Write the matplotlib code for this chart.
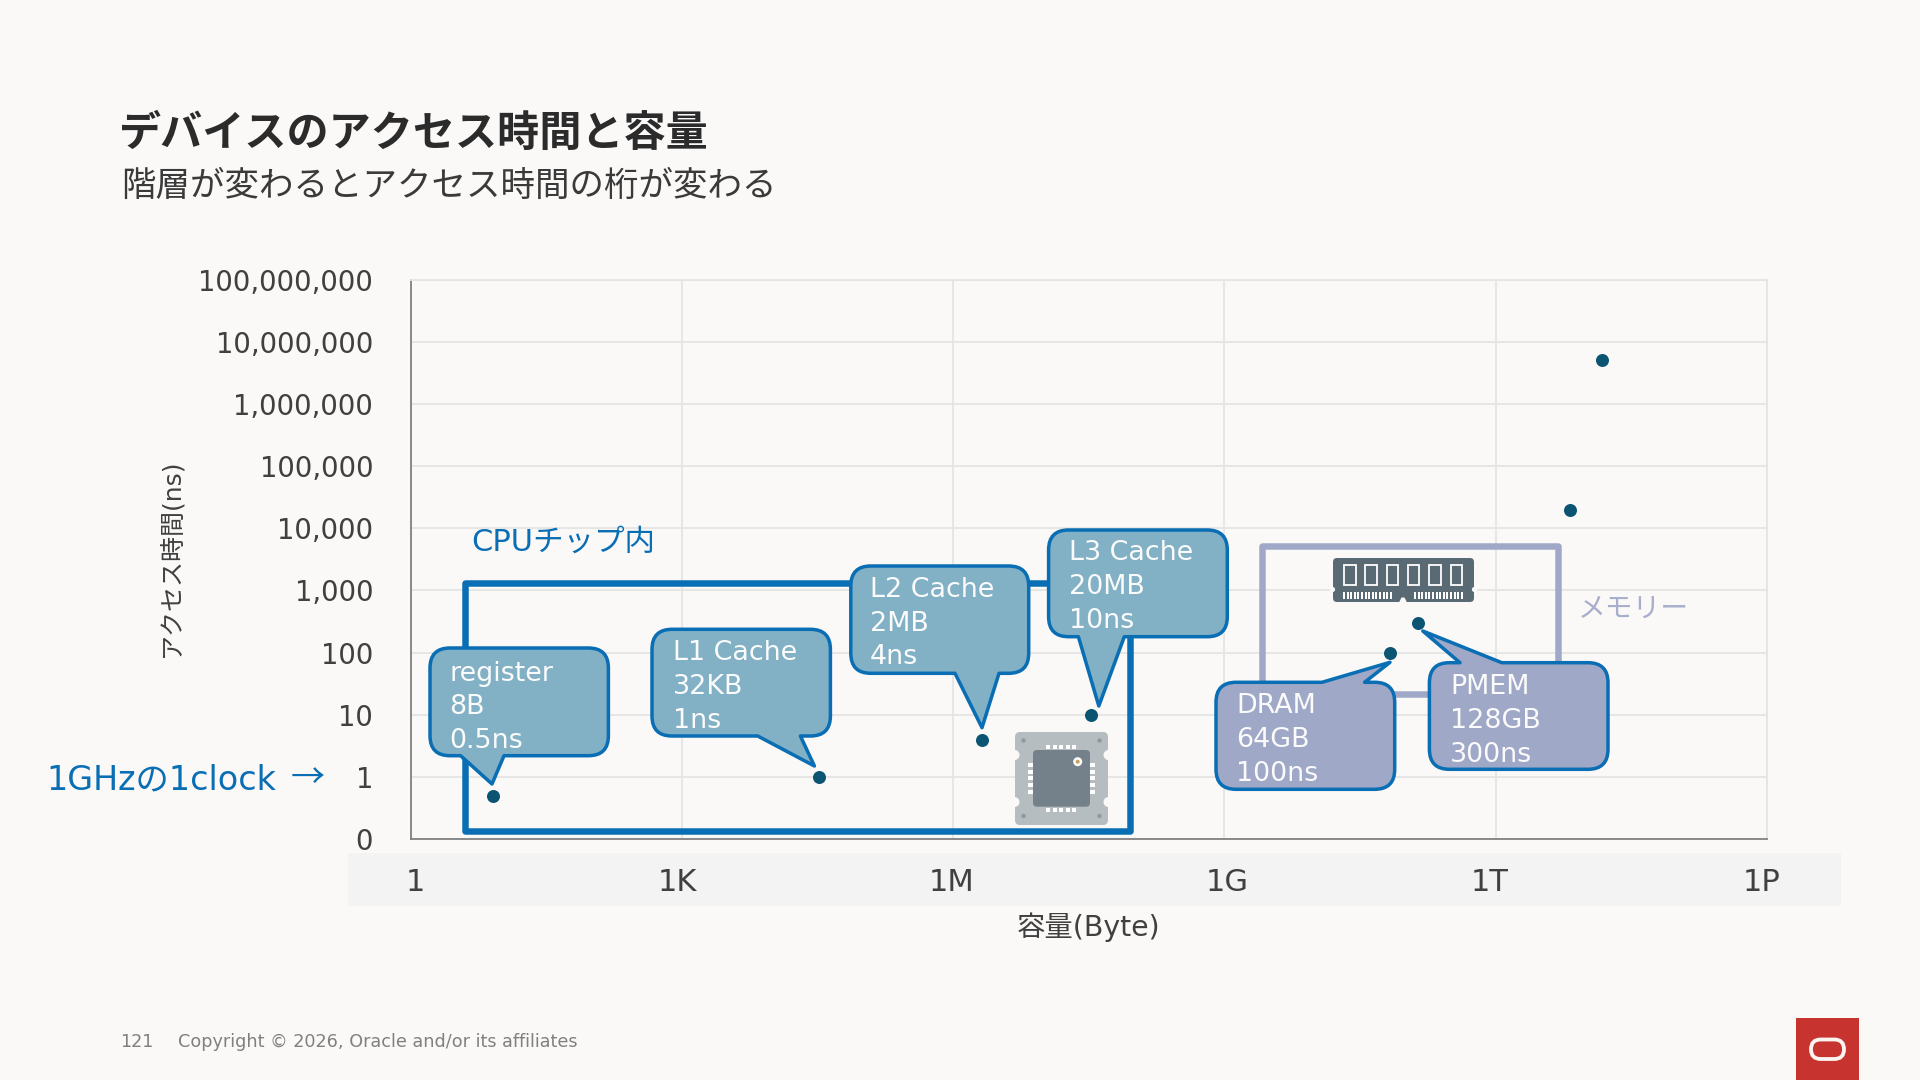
import matplotlib
matplotlib.use("Agg")
import matplotlib.pyplot as plt
from matplotlib.patches import Rectangle, PathPatch, FancyBboxPatch, Circle, Polygon
from matplotlib.path import Path
from matplotlib.transforms import ScaledTranslation

FONT = ['DejaVu Sans', 'Noto Sans CJK JP']
JP = ['Noto Sans CJK JP', 'DejaVu Sans']
plt.rcParams['font.family'] = FONT

# ---- data ----
device_names = ['register', 'L1 Cache', 'L2 Cache', 'L3 Cache', 'DRAM', 'PMEM', 'SSD', 'HDD']
capacity_bytes = [8, 32768, 2097152, 33554432, 68719476736, 137438953472, 6.6e12, 1.5e13]
access_ns = [0.5, 1, 4, 10, 100, 300, 20000, 5000000]
x_ticks = [1, 1e3, 1e6, 1e9, 1e12, 1e15]
x_tick_labels = ['1', '1K', '1M', '1G', '1T', '1P']
x_label_shift_px = [4, -5, -2, 3, -6, -5]
y_ticks = [0.1, 1, 10, 100, 1000, 10000, 100000, 1000000, 10000000, 100000000]
y_tick_labels = ['0', '1', '10', '100', '1,000', '10,000', '100,000', '1,000,000', '10,000,000', '100,000,000']

BG = '#FBF9F8'
BLUE = '#0A6EB4'
TEAL = '#82B1C6'
PURPLE = '#A0A8C8'
PX = 0.72  # px -> pt at dpi 100

fig = plt.figure(figsize=(19.2, 10.8), dpi=100, facecolor=BG)
fig.add_artist(Rectangle((348 / 1920, 1 - 906 / 1080), (1840.5 - 348) / 1920, 53 / 1080,
                         transform=fig.transFigure, facecolor='#F3F3F3', edgecolor='none', zorder=-1))

# ---- chart ----
ax = fig.add_axes([411.2 / 1920, 1 - 839.2 / 1080, (1766.6 - 411.2) / 1920, (839.2 - 279.6) / 1080], facecolor='none')
ax.set_xscale('log')
ax.set_yscale('log')
ax.set_xlim(x_ticks[0], x_ticks[-1])
ax.set_ylim(y_ticks[0], y_ticks[-1])
ax.set_xticks(x_ticks, x_tick_labels)
ax.set_yticks(y_ticks, y_tick_labels)
ax.minorticks_off()
ax.grid(True, color='#E4E4E2', lw=1.8 * PX)
ax.set_axisbelow(True)
ax.tick_params(axis='both', length=0)
ax.tick_params(axis='y', pad=38 * PX, labelsize=19.8, labelcolor='#404040')
ax.tick_params(axis='x', pad=29 * PX, labelsize=22, labelcolor='#404040')
for lab, dx in zip(ax.get_xticklabels(), x_label_shift_px):
    lab.set_transform(lab.get_transform() + ScaledTranslation(dx / 100, 0, fig.dpi_scale_trans))
for side in ('top', 'right'):
    ax.spines[side].set_color('#E4E4E2')
    ax.spines[side].set_linewidth(1.8 * PX)
for side in ('left', 'bottom'):
    ax.spines[side].set_color('#808080')
    ax.spines[side].set_linewidth(1.8 * PX)
ax.plot(capacity_bytes, access_ns, ls='none', marker='o', ms=13 * PX, color='#0B5472',
        mec='none', clip_on=False, zorder=10)

# ---- overlay in pixel coordinates ----
ov = fig.add_axes([0, 0, 1, 1], facecolor='none', zorder=5)
ov.set_xlim(0, 1920)
ov.set_ylim(1080, 0)
ov.axis('off')


def label(x, y, s, size, color='#404040', ha='left', va='center', fam=FONT, **kw):
    return ov.text(x, y, s, fontsize=size, color=color, ha=ha, va=va, family=fam, **kw)


def callout(l, t, r, b, edge, p1, tip, p2, fill, lines, tx, tys, rad=20):
    M, L, Q = Path.MOVETO, Path.LINETO, Path.CURVE3
    v = [(l + rad, t)]
    c = [M]
    if edge == 't':
        v += [(p1, t), tip, (p2, t)]
        c += [L, L, L]
    v += [(r - rad, t), (r, t), (r, t + rad), (r, b - rad), (r, b), (r - rad, b)]
    c += [L, Q, Q, L, Q, Q]
    if edge == 'b':
        v += [(p2, b), tip, (p1, b)]
        c += [L, L, L]
    v += [(l + rad, b), (l, b), (l, b - rad), (l, t + rad), (l, t), (l + rad, t), (l + rad, t)]
    c += [L, Q, Q, L, Q, Q, Path.CLOSEPOLY]
    ov.add_patch(PathPatch(Path(v, c), facecolor=fill, edgecolor=BLUE, lw=3.5 * PX, joinstyle='round', zorder=4))
    for s, y in zip(lines, tys):
        label(tx - 1, y + 3, s, 19.4, color='#FBFBFB', zorder=6)


# group frames
ov.add_patch(Rectangle((465, 583), 665, 248, fill=False, ec=BLUE, lw=6.5 * PX, joinstyle='round', zorder=2))
ov.add_patch(Rectangle((1262, 546), 296, 148, fill=False, ec=PURPLE, lw=6.5 * PX, joinstyle='round', zorder=2))

callout(430, 648, 608.4, 755.7, 'b', 460.6, (492, 784), 504, TEAL, ['register', '8B', '0.5ns'], 450.4, [671, 704, 737.7])
callout(652, 629.3, 830.4, 736, 'b', 757.7, (814.4, 766), 800.4, TEAL, ['L1 Cache', '32KB', '1ns'], 673.9, [650, 684.3, 718.3])
callout(850.8, 566, 1028.7, 673.3, 'b', 955, (982, 727.7), 999, TEAL, ['L2 Cache', '2MB', '4ns'], 871, [587.3, 620.7, 654])
callout(1048.6, 530, 1227.3, 636.7, 'b', 1078.4, (1098.8, 706), 1124.3, TEAL, ['L3 Cache', '20MB', '10ns'], 1070, [550, 584.3, 618.3])
callout(1216, 682.3, 1394.7, 789.3, 't', 1322, (1390, 662.3), 1364.6, PURPLE, ['DRAM', '64GB', '100ns'], 1237, [703, 737, 771])
callout(1429.4, 662.7, 1608, 769.3, 't', 1460, (1422.8, 631), 1501.8, PURPLE, ['PMEM', '128GB', '300ns'], 1451, [684, 718, 751.7])

# chip icon
ov.add_patch(FancyBboxPatch((1017, 734), 89, 89, boxstyle='round,pad=2,rounding_size=5', fc='#B6BDC0', ec='none', zorder=3))
for cy in (755, 802):
    for cx in (1014.5, 1108.5):
        ov.add_patch(Circle((cx, cy), 5, fc=BG, ec='none', zorder=3))
for cx, cy in [(1023.5, 740.5), (1099.5, 740.5), (1023.5, 816), (1099.5, 816)]:
    ov.add_patch(Circle((cx, cy), 2.2, fc='#8F9A9F', ec='none', zorder=3))
ov.add_patch(FancyBboxPatch((1035, 752), 53, 52.7, boxstyle='round,pad=2,rounding_size=4', fc='#74818A', ec='none', zorder=3))
for i in range(5):
    px = 1046 + i * 6.5
    ov.add_patch(Rectangle((px, 745), 4, 4, fc='white', ec='none', zorder=3))
    ov.add_patch(Rectangle((px, 807.7), 4, 4, fc='white', ec='none', zorder=3))
for i in range(5):
    py = 763 + i * 6.7
    ov.add_patch(Rectangle((1027.7, py), 5, 4, fc='white', ec='none', zorder=3))
    ov.add_patch(Rectangle((1090.3, py), 5, 4, fc='white', ec='none', zorder=3))
ov.add_patch(Circle((1077.7, 761.7), 4.5, fc='white', ec='none', zorder=3))
ov.add_patch(Circle((1077.7, 761.7), 2, fc='#C9A063', ec='none', zorder=3))

# memory module icon
RAM = '#5A6A75'
ov.add_patch(FancyBboxPatch((1335, 560), 137, 40, boxstyle='round,pad=2,rounding_size=4', fc=RAM, ec='none', zorder=3))
ov.add_patch(Polygon([(1399, 602.5), (1401.5, 597.5), (1404.5, 597.5), (1407, 602.5)], fc=BG, ec='none', zorder=3))
for cx in (1332.5, 1474.5):
    ov.add_patch(Circle((cx, 589.5), 2.6, fc=BG, ec='none', zorder=3))
for i in range(6):
    ov.add_patch(Rectangle((1344 + i * 21.3, 564.5), 11.5, 20, fc=RAM, ec='white', lw=1.8 * PX, zorder=3))
for x0 in (1343, 1414):
    for i in range(14):
        ov.add_patch(Rectangle((x0 + i * 3.6, 591.7), 1.9, 6.8, fc='white', ec='none', zorder=3))

# logo
ov.add_patch(Rectangle((1796, 1018), 62.7, 62, fc='#C7332E', ec='none', zorder=3))
ov.add_patch(FancyBboxPatch((1811, 1039.5), 33, 19.5, boxstyle='round,pad=0,rounding_size=9.7', fc='none',
                            ec='#FBF5F2', lw=3.8 * PX, zorder=4))

# texts
label(119, 133.5, 'デバイスのアクセス時間と容量', 30.3, color='#2B2B2B', fam=JP, fontweight='bold')
label(121, 186.5, '階層が変わるとアクセス時間の桁が変わる', 24.8, color='#3A3A3A', fam=JP)
label(471, 542, 'CPUチップ内', 22, color=BLUE, fam=FONT)
label(1578, 609, 'メモリー', 20, color='#A7AFCC', fam=JP)
label(46, 780, '1GHzの1clock', 24, color=BLUE, fam=FONT)
label(308, 779, '→', 24.5, color=BLUE, ha='center', fam=JP)
label(171, 558, 'アクセス時間(ns)', 18, ha='center', rotation=90, fam=FONT)
label(1088.6, 927, '容量(Byte)', 20.4, ha='center', fam=FONT)
label(120, 1042, '121', 12.7, color='#808080')
label(178, 1042, 'Copyright © 2026, Oracle and/or its affiliates', 12.7, color='#808080')

fig.savefig('out.png', dpi=100, facecolor=BG)
